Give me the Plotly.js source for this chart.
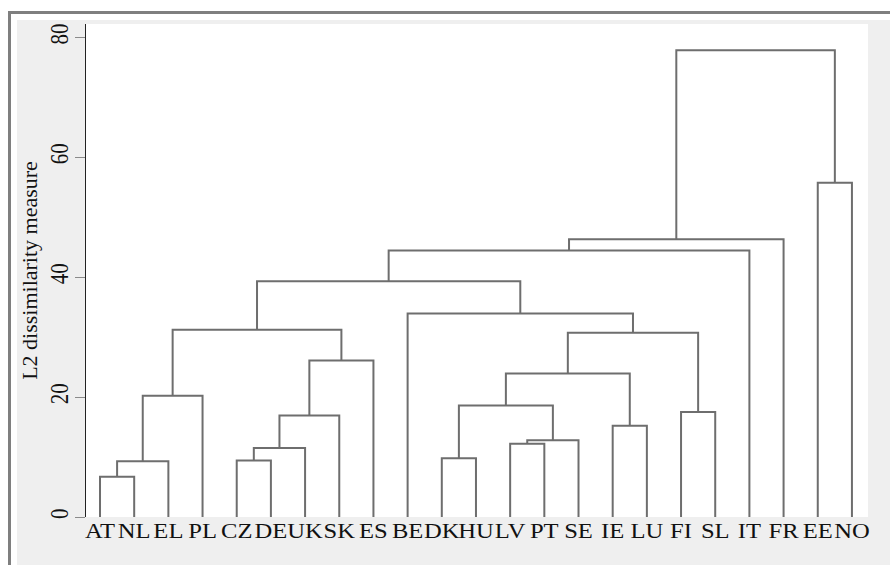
<!DOCTYPE html>
<html>
<head>
<meta charset="utf-8">
<script src="https://cdn.plot.ly/plotly-3.0.1.min.js"></script>
<style>
  html, body { margin: 0; padding: 0; background: #ffffff; }
  body { width: 890px; height: 565px; position: relative; overflow: hidden; }
  #frame {
    position: absolute; left: 8px; top: 11px; width: 900px; height: 600px;
    border-left: 3.5px solid #7f7f7f; border-top: 3px solid #7f7f7f;
  }
  #chart { position: absolute; left: 17px; top: 20px; width: 873px; height: 545px; }
</style>
</head>
<body>
<div id="frame"></div>
<div id="chart"></div>
<script>
// Leaf order along the horizontal axis
const leaves = ["AT","NL","EL","PL","CZ","DE","UK","SK","ES","BE","DK","HU",
                "LV","PT","SE","IE","LU","FI","SL","IT","FR","EE","NO"];

// Agglomeration steps: the two members joined at each step (a country code,
// or "#k" for the cluster formed at step k) and the fusion level.
const joinLeft  = ["AT","#0","#1","CZ","#3","#4","#5","#2","DK","LV","#9",
                   "#8","IE","#11","FI","#13","BE","#7","#17","#18","EE","#19"];
const joinRight = ["NL","EL","PL","DE","UK","SK","ES","#6","HU","PT","SE",
                   "#10","LU","#12","SL","#14","#15","#16","IT","FR","NO","#20"];
const joinLevel = [6.7, 9.3, 20.2, 9.4, 11.5, 16.9, 26.1, 31.2, 9.8, 12.2, 12.8,
                   18.6, 15.2, 23.9, 17.5, 30.7, 33.9, 39.3, 44.4, 46.3, 55.7, 77.8];

const yTicks = [0, 20, 40, 60, 80];

// Position and height of a member: leaves sit on their slot at level 0,
// clusters sit midway between their two members at their fusion level.
const nodePos = [];
function member(code) {
  if (code.startsWith("#")) return nodePos[+code.slice(1)];
  return { x: leaves.indexOf(code) + 1, y: 0 };
}

const lx = [], ly = [];
joinLevel.forEach((h, k) => {
  const a = member(joinLeft[k]);
  const b = member(joinRight[k]);
  lx.push(a.x, a.x, b.x, b.x, null);
  ly.push(a.y, h, h, b.y, null);
  nodePos[k] = { x: (a.x + b.x) / 2, y: h };
});

const serif = "'Liberation Serif', 'Times New Roman', serif";

const trace = {
  type: "scatter",
  mode: "lines",
  x: lx,
  y: ly,
  line: { color: "#6e6e6e", width: 2 },
  hoverinfo: "skip",
  showlegend: false
};

const layout = {
  width: 873,
  height: 545,
  margin: { l: 69, r: 22, t: 4, b: 48 },
  paper_bgcolor: "#efefef",
  plot_bgcolor: "#ffffff",
  font: { family: serif, color: "#111111" },
  xaxis: {
    range: [0.59, 23.47],
    tickmode: "array",
    tickvals: leaves.map((_, i) => i + 1),
    ticktext: leaves,
    tickangle: 0,
    ticks: "",
    showgrid: false,
    zeroline: false,
    showline: false,
    tickfont: { family: serif, size: 20.5, color: "#111111" },
    fixedrange: true
  },
  yaxis: {
    range: [0, 82.17],
    tickmode: "array",
    tickvals: yTicks,
    ticktext: yTicks.map(String),
    tickangle: -90,
    ticks: "outside",
    ticklen: 10,
    tickwidth: 1,
    tickcolor: "#8a8a8a",
    showgrid: false,
    zeroline: false,
    showline: true,
    linecolor: "#222222",
    linewidth: 1,
    tickfont: { family: serif, size: 21, color: "#111111" },
    title: { text: "L2 dissimilarity measure", font: { family: serif, size: 22, color: "#111111" }, standoff: 8 },
    fixedrange: true
  }
};

// Widen the tick lettering horizontally (on screen) about each label's centre.
function widen(selector, factor, rotated) {
  document.querySelectorAll(selector).forEach(t => {
    const b = t.getBBox();
    const prev = t.getAttribute("transform") || "";
    let extra;
    if (rotated) {
      const cy = b.y + b.height / 2;
      extra = ` translate(0,${cy}) scale(1,${factor}) translate(0,${-cy})`;
    } else {
      const cx = b.x + b.width / 2;
      extra = ` translate(${cx},0) scale(${factor},1) translate(${-cx},0)`;
    }
    t.setAttribute("transform", prev + extra);
  });
}

Plotly.newPlot("chart", [trace], layout, { displayModeBar: false, staticPlot: true })
  .then(() => {
    widen("#chart .xtick text", 1.2, false);
    widen("#chart .ytick text", 1.2, true);
  });
</script>
</body>
</html>
